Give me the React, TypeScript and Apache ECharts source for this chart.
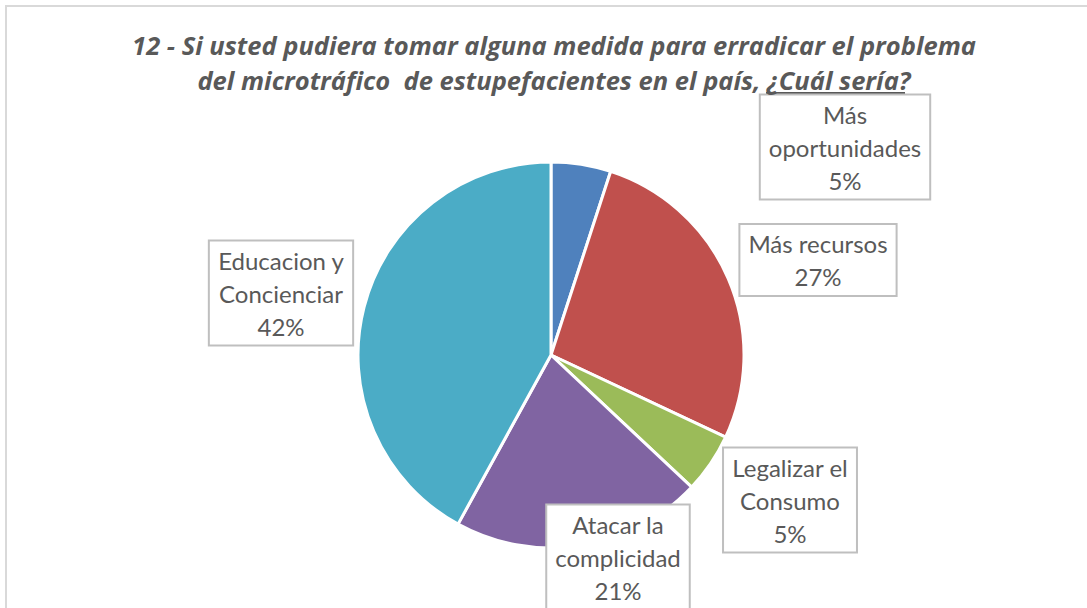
import React, { useEffect, useRef } from "react";
import * as echarts from "echarts";

const categories = [
  "Más\noportunidades",
  "Más recursos",
  "Legalizar el\nConsumo",
  "Atacar la\ncomplicidad",
  "Educacion y\nConcienciar",
];
const values = [5, 27, 5, 21, 42];
const colors = ["#4F81BD", "#C0504D", "#9BBB59", "#8064A2", "#4BACC6"];
const titleLines = [
  "12 - Si usted pudiera tomar alguna medida para erradicar el problema",
  "del microtráfico  de estupefacientes en el país, ¿Cuál sería?",
];
const labelCenters: [number, number][] = [
  [845, 147],
  [818, 260],
  [790, 500],
  [618, 557],
  [281, 293],
];

export default function App() {
  const ref = useRef<HTMLDivElement>(null);
  useEffect(() => {
    document.body.style.margin = "0";
    if (!ref.current) return;
    const chart = echarts.init(ref.current, undefined, { renderer: "svg" });
    chart.setOption({
      animation: false,
      backgroundColor: "#ffffff",
      title: {
        text: titleLines.join("\n"),
        left: 549,
        top: 22,
        textAlign: "center",
        textStyle: {
          fontFamily: "Open Sans",
          fontSize: 25.5,
          fontWeight: "bold",
          fontStyle: "italic",
          color: "#595959",
          lineHeight: 35,
        },
      },
      graphic: [
        {
          type: "rect",
          shape: { x: 6, y: 6, width: 1120, height: 640 },
          style: { fill: "none", stroke: "#D9D9D9", lineWidth: 2 },
          silent: true,
        },
        {
          type: "line",
          shape: { x1: 766, y1: 93, x2: 905, y2: 93 },
          style: { stroke: "#595959", lineWidth: 2 },
          silent: true,
        },
      ],
      series: [
        {
          type: "pie",
          center: [551, 355],
          radius: 193,
          startAngle: 90,
          clockwise: true,
          data: categories.map((name, i) => ({
            name,
            value: values[i],
            itemStyle: { color: colors[i] },
          })),
          itemStyle: { borderColor: "#ffffff", borderWidth: 3 },
          label: {
            show: true,
            formatter: (p: any) => `${p.name}\n${p.value}%`,
            fontFamily: "Lato",
            fontSize: 24,
            lineHeight: 33,
            color: "#595959",
            align: "center",
            backgroundColor: "#ffffff",
            borderColor: "#BFBFBF",
            borderWidth: 2,
            padding: [2, 8, 2, 8],
          },
          labelLine: { show: false },
          labelLayout: (params: any) => {
            const c = labelCenters[params.dataIndex];
            return { x: c[0], y: c[1], align: "center", verticalAlign: "middle" };
          },
          emphasis: { disabled: true },
        },
      ],
    });
    return () => chart.dispose();
  }, []);
  return <div ref={ref} style={{ width: 1087, height: 608 }} />;
}
